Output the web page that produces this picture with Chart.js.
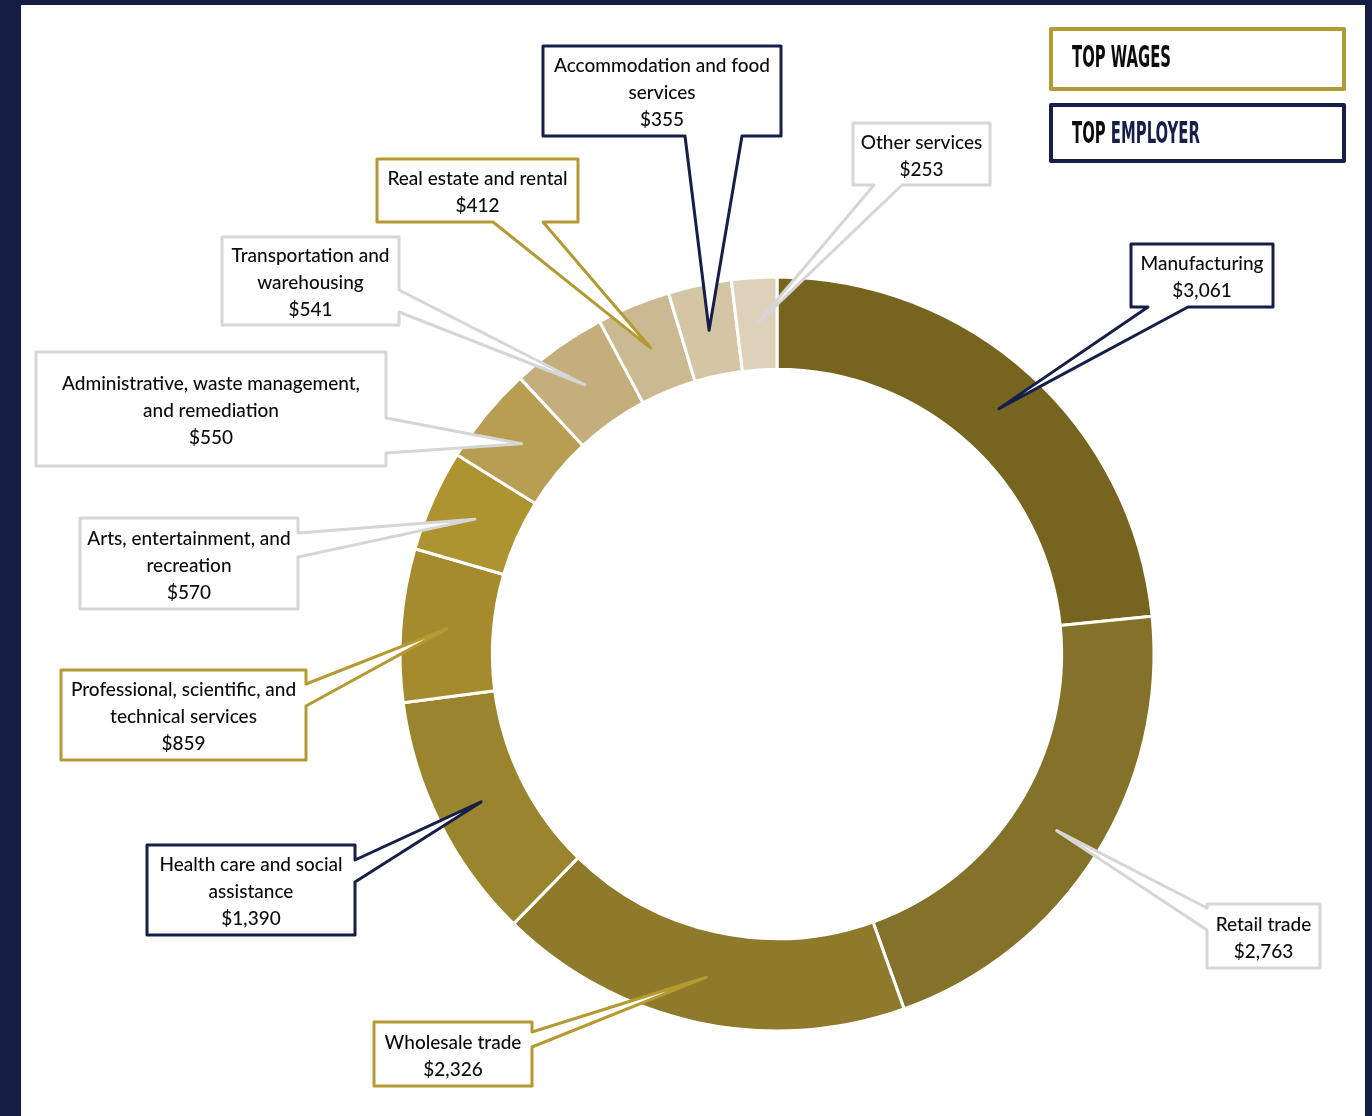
<!DOCTYPE html>
<html>
<head>
<meta charset="utf-8">
<script src="https://cdn.jsdelivr.net/npm/chart.js@4.4.0/dist/chart.umd.min.js"></script>
<style>
  html, body { margin: 0; padding: 0; background: #151d45; }
  canvas { display: block; }
</style>
</head>
<body>
<canvas id="chart" width="1372" height="1116"></canvas>
<script>
// earnings by industry, clockwise from 12 o'clock
const industries = [
  'Manufacturing', 'Retail trade', 'Wholesale trade', 'Health care and social assistance',
  'Professional, scientific, and technical services', 'Arts, entertainment, and recreation',
  'Administrative, waste management, and remediation', 'Transportation and warehousing',
  'Real estate and rental', 'Accommodation and food services', 'Other services'
];
const labelLines = [
  ['Manufacturing'], ['Retail trade'], ['Wholesale trade'],
  ['Health care and social', 'assistance'],
  ['Professional, scientific, and', 'technical services'],
  ['Arts, entertainment, and', 'recreation'],
  ['Administrative, waste management,', 'and remediation'],
  ['Transportation and', 'warehousing'],
  ['Real estate and rental'],
  ['Accommodation and food', 'services'],
  ['Other services']
];
const earnings = [3061, 2763, 2326, 1390, 859, 570, 550, 541, 412, 355, 253];
// which key each industry belongs to: wages / employer / none
const highlight = ['employer', 'none', 'wages', 'employer', 'wages', 'none', 'none', 'none', 'wages', 'employer', 'none'];
const sliceColors = [
  '#77641f', '#85722a', '#8e7a2a', '#9b842e', '#a68b2e', '#ae9430',
  '#b89e52', '#c4ae7c', '#cbb991', '#d4c6a4', '#ddd2b9'
];
const legendItems = [['TOP ', 'WAGES'], ['TOP ', 'EMPLOYER']];

const GOLD = '#b59a32';
const NAVY = '#151f4a';
const GREY = '#d6d6d6';
const outline = { wages: GOLD, employer: NAVY, none: GREY };

// callout boxes (page px); side = edge the pointer leaves from, base = two points on that edge
const calloutBoxes = [
  { x: 1131, y: 244, w: 142, h: 63, side: 'bottom', base: [1188, 1148] },
  { x: 1207, y: 904, w: 113, h: 64, side: 'left', base: [930, 908] },
  { x: 374, y: 1022, w: 158, h: 64, side: 'right', base: [1032, 1047] },
  { x: 147, y: 845, w: 208, h: 90, side: 'right', base: [860, 882] },
  { x: 61, y: 670, w: 245, h: 90, side: 'right', base: [684, 706] },
  { x: 80, y: 518, w: 218, h: 91, side: 'right', base: [533, 557] },
  { x: 36, y: 352, w: 350, h: 114, side: 'right', base: [418, 453] },
  { x: 222, y: 237, w: 177, h: 88, side: 'right', base: [290, 312] },
  { x: 377, y: 159, w: 201, h: 63, side: 'bottom', base: [543, 493] },
  { x: 543, y: 46, w: 238, h: 90, side: 'bottom', base: [742, 685] },
  { x: 853, y: 123, w: 137, h: 62, side: 'bottom', base: [902, 874] }
];
const legendBoxes = [
  { x: 1051, y: 29, w: 293, h: 60, baseline: 67 },
  { x: 1051, y: 105, w: 293, h: 56, baseline: 143 }
];

function calloutPath(ctx, b, tip) {
  const x1 = b.x, y1 = b.y, x2 = b.x + b.w, y2 = b.y + b.h;
  ctx.beginPath();
  ctx.moveTo(x1, y1);
  if (b.side === 'top') { ctx.lineTo(b.base[0], y1); ctx.lineTo(tip.x, tip.y); ctx.lineTo(b.base[1], y1); }
  ctx.lineTo(x2, y1);
  if (b.side === 'right') { ctx.lineTo(x2, b.base[0]); ctx.lineTo(tip.x, tip.y); ctx.lineTo(x2, b.base[1]); }
  ctx.lineTo(x2, y2);
  if (b.side === 'bottom') { ctx.lineTo(b.base[0], y2); ctx.lineTo(tip.x, tip.y); ctx.lineTo(b.base[1], y2); }
  ctx.lineTo(x1, y2);
  if (b.side === 'left') { ctx.lineTo(x1, b.base[0]); ctx.lineTo(tip.x, tip.y); ctx.lineTo(x1, b.base[1]); }
  ctx.closePath();
}

const pageFrame = {
  id: 'pageFrame',
  beforeDraw(chart) {
    const ctx = chart.ctx;
    ctx.save();
    ctx.fillStyle = '#151d45';
    ctx.fillRect(0, 0, chart.width, chart.height);
    ctx.fillStyle = '#ffffff';
    ctx.fillRect(21, 5, 1344, chart.height - 5);
    ctx.restore();
  }
};

const callouts = {
  id: 'callouts',
  afterDraw(chart) {
    const ctx = chart.ctx;
    const arcs = chart.getDatasetMeta(0).data;
    ctx.save();
    ctx.lineJoin = 'round';
    ctx.lineWidth = 3;
    arcs.forEach((arc, i) => {
      const b = calloutBoxes[i];
      const tip = arc.tooltipPosition();
      calloutPath(ctx, b, tip);
      ctx.fillStyle = '#ffffff';
      ctx.fill();
      ctx.strokeStyle = outline[highlight[i]];
      ctx.stroke();

      const lines = labelLines[i].concat('$' + earnings[i].toLocaleString('en-US'));
      ctx.fillStyle = '#0c0c0c';
      ctx.font = '500 19px Lato, "Noto Sans", sans-serif';
      ctx.textAlign = 'center';
      ctx.textBaseline = 'middle';
      const cx = b.x + b.w / 2;
      const cy = b.y + b.h / 2 + 2;
      lines.forEach((t, k) => {
        ctx.fillText(t, cx, cy + (k - (lines.length - 1) / 2) * 27);
      });
    });

    // key boxes, top right
    ctx.lineWidth = 4;
    ctx.font = 'bold 31px "Liberation Sans Narrow", "DejaVu Sans Condensed", "DejaVu Sans", sans-serif';
    ctx.textAlign = 'left';
    ctx.textBaseline = 'alphabetic';
    const squeeze = 99 / ctx.measureText(legendItems[0].join('')).width;
    legendItems.forEach((parts, i) => {
      const lb = legendBoxes[i];
      ctx.strokeStyle = i === 0 ? GOLD : NAVY;
      ctx.strokeRect(lb.x, lb.y, lb.w, lb.h);
      ctx.save();
      ctx.translate(1072, lb.baseline);
      ctx.scale(squeeze, 1);
      ctx.fillStyle = '#0d0d0d';
      ctx.fillText(parts[0], 0, 0);
      ctx.fillStyle = i === 0 ? '#0d0d0d' : NAVY;
      ctx.fillText(parts[1], ctx.measureText(parts[0]).width, 0);
      ctx.restore();
    });
    ctx.restore();
  }
};

new Chart(document.getElementById('chart'), {
  type: 'doughnut',
  data: {
    labels: industries,
    datasets: [{
      data: earnings,
      backgroundColor: sliceColors,
      borderColor: '#ffffff',
      borderWidth: 3
    }]
  },
  options: {
    responsive: false,
    animation: false,
    events: [],
    radius: 377,
    cutout: '75.5%',
    layout: { padding: { left: 401, right: 219, top: 278, bottom: 86 } },
    plugins: {
      legend: { display: false },
      tooltip: { enabled: false }
    }
  },
  plugins: [pageFrame, callouts]
});
</script>
</body>
</html>
